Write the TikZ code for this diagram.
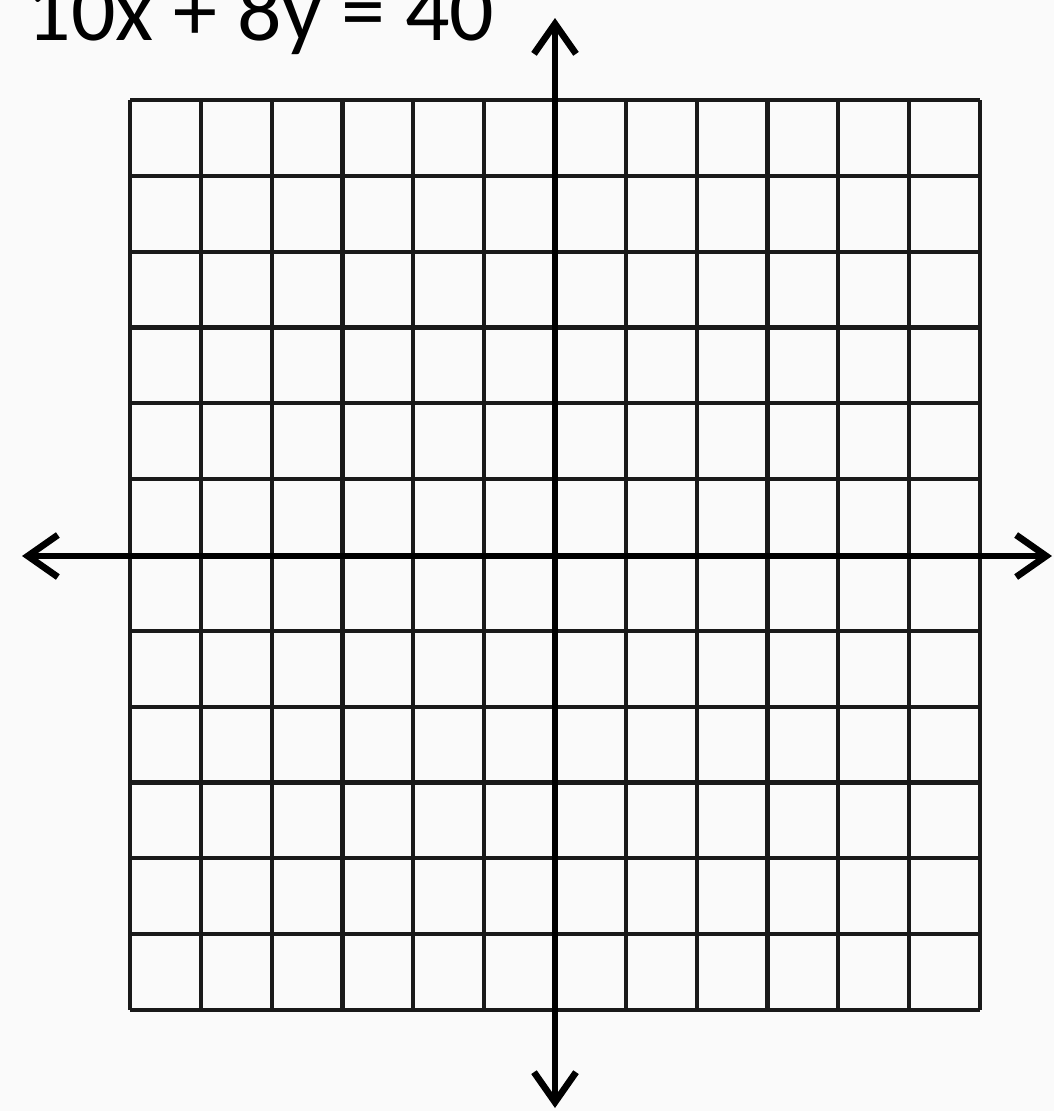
\documentclass[tikz,border=0pt]{standalone}
\usepackage{fontspec}
\setmainfont{Carlito}
\usetikzlibrary{arrows.meta}

\begin{document}
\begin{tikzpicture}[x=0.01cm, y=-0.01cm,
    gridline/.style={line width=1.2pt, black!90},
    axisline/.style={line width=1.9pt, {Straight Barb[length=0.3cm,width=0.42cm,line width=1.9pt]}-{Straight Barb[length=0.3cm,width=0.42cm,line width=1.9pt]}}]
          \fill[black!2] (0,0) rectangle (1054,1111);
          \useasboundingbox (0,0) rectangle (1054,1111);

          % grid 12 x 12
          \foreach \i in {0,...,12}{
            \draw[gridline] ({130+\i*70.83},100) -- ({130+\i*70.83},1010);
            \draw[gridline] (130,{100+\i*75.83}) -- (980,{100+\i*75.83});
          }

          \coordinate (xl) at (22,556);
          \coordinate (xr) at (1052,556);
          \coordinate (yt) at (555,18);
          \coordinate (yb) at (555,1108);
          \draw[axisline] (xl) -- (xr);
          \draw[axisline] (yt) -- (yb);

          \node[anchor=base west, inner sep=0pt, font=\fontsize{25}{30}\selectfont] (eqn)
          at (26,40) {10x + 8y = 40};
\end{tikzpicture}
\end{document}
